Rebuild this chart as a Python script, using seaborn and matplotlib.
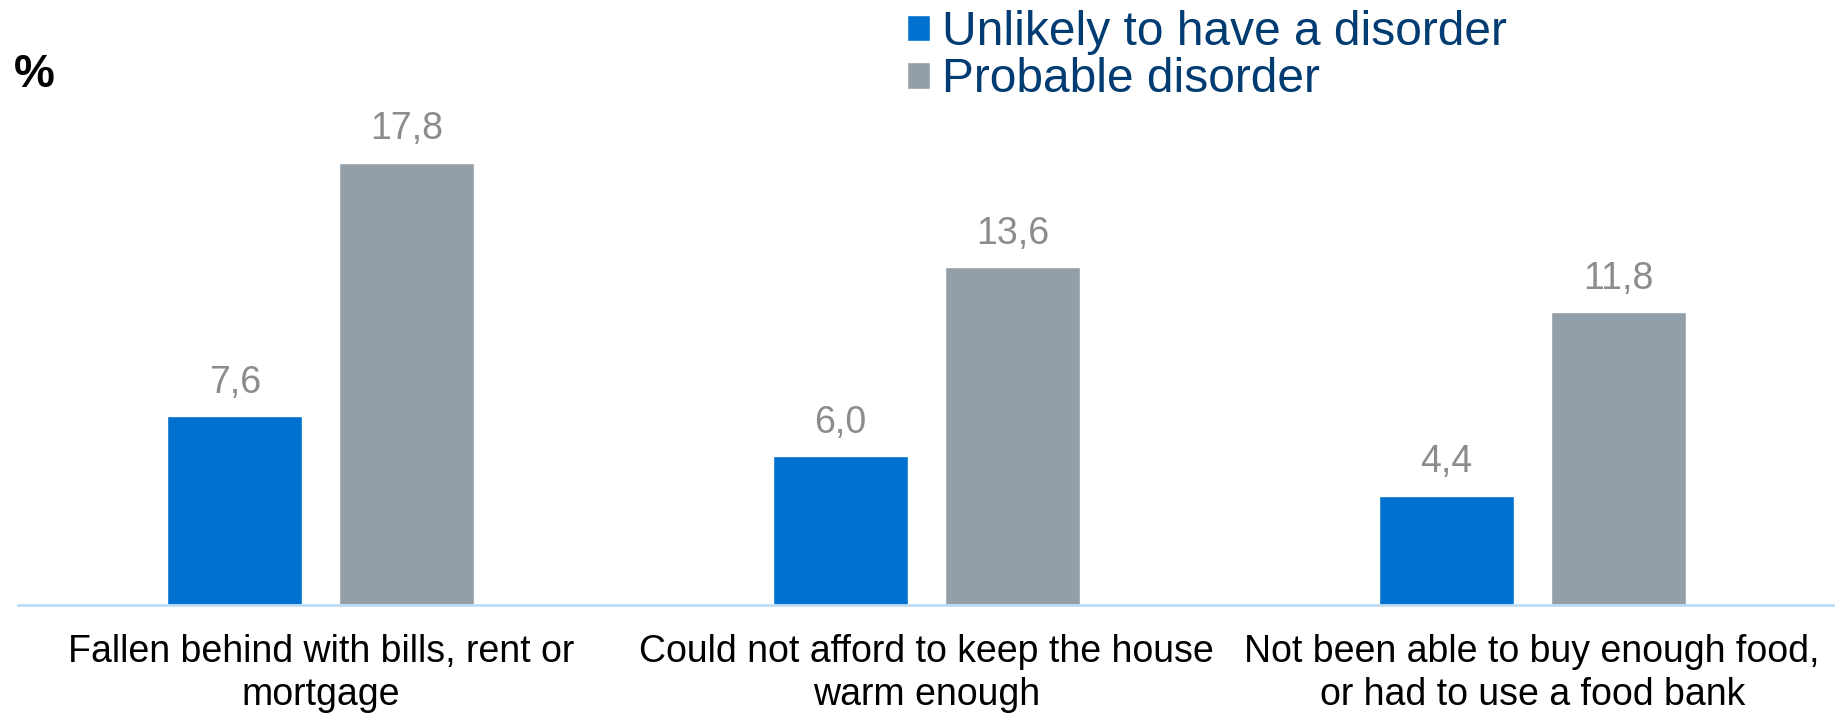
import pandas as pd
import seaborn as sns
import matplotlib.pyplot as plt

# data
categories = ['Fallen behind with bills, rent or\nmortgage',
              'Could not afford to keep the house\nwarm enough',
              'Not been able to buy enough food,\nor had to use a food bank']
groups = ['Unlikely to have a disorder', 'Probable disorder']
unlikely = [7.6, 6.0, 4.4]
probable = [17.8, 13.6, 11.8]

df = pd.DataFrame({
    'Category': categories * 2,
    'Group': [groups[0]] * 3 + [groups[1]] * 3,
    'Value': unlikely + probable,
})

sns.set_theme(style='white')
plt.rcParams['font.family'] = ['Liberation Sans', 'DejaVu Sans']

fig = plt.figure(figsize=(18.35, 7.15), dpi=100)
ax = fig.add_axes([18 / 1835, 110 / 715, 1817 / 1835, 605 / 715])

palette = {groups[0]: '#0071CE', groups[1]: '#929FA8'}
sns.barplot(data=df, x='Category', y='Value', hue='Group', palette=palette,
            width=0.568, gap=0.215, saturation=1, errorbar=None, ax=ax)

for cont in ax.containers:
    ax.bar_label(cont, labels=[f'{v:.1f}'.replace('.', ',') for v in cont.datavalues],
                 padding=11, fontsize=27, color='#8C8C8C')

ax.set_xlim(-0.5, 2.5)
ax.set_ylim(0, 24.35)
ax.set_xlabel('')
ax.set_ylabel('')
ax.set_yticks([])
ax.tick_params(axis='x', length=0, pad=21, labelsize=27, labelcolor='black')
for lbl in ax.get_xticklabels():
    lbl.set_linespacing(1.23)
for s in ['top', 'left', 'right']:
    ax.spines[s].set_visible(False)
ax.spines['bottom'].set_color('#BDDDF7')
ax.spines['bottom'].set_linewidth(2)

handles, labels = ax.get_legend_handles_labels()
ax.legend(handles, labels, loc='upper left', bbox_to_anchor=(907 / 1835, 1 - 10 / 715),
          bbox_transform=fig.transFigure, frameon=False, fontsize=34.5,
          handlelength=0.48, handleheight=0.48, handletextpad=0.24,
          labelspacing=0.05, borderpad=0, borderaxespad=0, labelcolor='#003B71')

fig.text(14 / 1835, 1 - 87 / 715, '%', fontsize=33, fontweight='bold', color='black')

fig.savefig('out.png', dpi=100)
